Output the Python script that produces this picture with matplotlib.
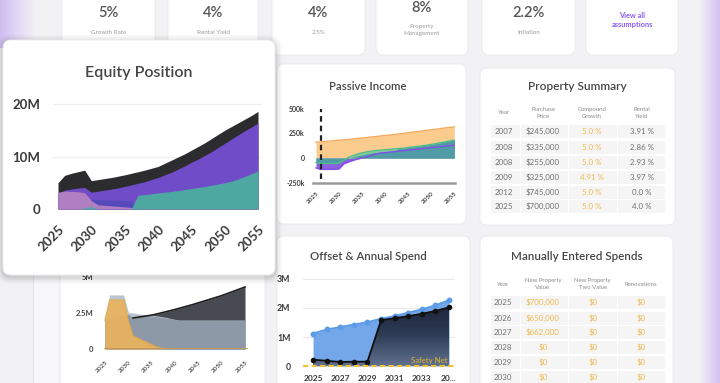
import numpy as np
import matplotlib
matplotlib.use('Agg')
import matplotlib.pyplot as plt
from matplotlib.patches import FancyBboxPatch, Rectangle
from matplotlib.colors import LinearSegmentedColormap

plt.rcParams['font.family'] = ['Lato', 'DejaVu Sans']

W, H = 720, 383

# ---------------- data ----------------
years = [2025, 2026, 2027, 2028, 2029, 2030, 2031, 2032, 2033, 2034, 2035,
         2036, 2037, 2038, 2039, 2040, 2041, 2042, 2043, 2044, 2045,
         2046, 2047, 2048, 2049, 2050, 2051, 2052, 2053, 2054, 2055]
year_ticks = [2025, 2030, 2035, 2040, 2045, 2050, 2055]

# Equity Position (millions)
eq_total = [5.0, 6.4, 6.8, 7.1, 7.4, 5.4, 5.6, 5.8, 6.0, 6.25, 6.5,
            6.8, 7.1, 7.4, 7.75, 8.1, 8.7, 9.3, 9.9, 10.5, 11.2,
            11.9, 12.6, 13.4, 14.2, 15.0, 15.7, 16.4, 17.1, 17.8, 18.6]
eq_purple = [3.0, 3.6, 3.8, 4.0, 4.1, 3.2, 3.4, 3.6, 3.8, 4.0, 4.3,
             4.6, 4.9, 5.2, 5.6, 6.0, 6.5, 7.0, 7.6, 8.2, 8.9,
             9.5, 10.2, 10.9, 11.7, 12.5, 13.3, 14.1, 14.9, 15.6, 16.4]
eq_blue = [0, 0, 0, 0, 0, 1.9, 1.8, 1.75, 1.7, 1.7, 1.65,
           1.6, 0, 0, 0, 0, 0, 0, 0, 0, 0,
           0, 0, 0, 0, 0, 0, 0, 0, 0, 0]
eq_mauve = [3.2, 3.4, 3.35, 3.3, 3.1, 1.6, 0.8, 0.7, 0.6, 0.5, 0.4,
            0.3, 0, 0, 0, 0, 0, 0, 0, 0, 0,
            0, 0, 0, 0, 0, 0, 0, 0, 0, 0]
eq_teal = [0, 0, 0, 0, 0.2, 0.5, 0, 0, 0, 0, 0,
           0, 2.6, 2.75, 2.9, 3.05, 3.2, 3.35, 3.5, 3.7, 3.9,
           4.1, 4.3, 4.5, 4.75, 5.0, 5.3, 5.7, 6.2, 6.7, 7.3]

# Passive Income (thousands)
pi_gross = [160, 164, 168, 172, 176, 180, 184, 188, 193, 198, 203,
            208, 213, 218, 223, 228, 233, 238, 244, 250, 256,
            262, 268, 274, 280, 286, 292, 298, 304, 310, 316]
pi_purple = [-100, -115, -115, -115, -115, -110, -60, -40, -25, -10, 0,
             10, 25, 40, 50, 55, 60, 65, 70, 75, 80,
             85, 90, 95, 100, 105, 110, 115, 120, 125, 130]
pi_green = [-45, -55, -55, -55, -55, -50, -20, 5, 25, 40, 52,
            62, 70, 76, 80, 84, 88, 92, 96, 100, 106,
            112, 118, 124, 131, 138, 146, 155, 164, 173, 182]
pi_net = [-45, -55, -55, -55, -55, -50, -25, -5, 10, 22, 32,
          42, 50, 56, 60, 64, 68, 72, 96, 100, 106,
          112, 118, 124, 131, 138, 146, 155, 164, 173, 182]
pi_marker_year = 2026

# Lower-left chart (millions)
bl_black = [2.0, 2.2, 2.25, 2.3, 2.35, 2.4, 2.15, 2.2, 2.25, 2.3, 2.35,
            2.42, 2.5, 2.58, 2.66, 2.74, 2.83, 2.92, 3.01, 3.1, 3.2,
            3.3, 3.4, 3.5, 3.6, 3.7, 3.82, 3.94, 4.06, 4.18, 4.3]
bl_slate = [2.0, 2.2, 2.25, 2.3, 2.35, 2.4, 2.15, 2.2, 2.25, 2.3, 2.3,
            2.25, 2.2, 2.15, 2.1, 2.05, 2.0, 2.0, 2.0, 2.0, 2.0,
            2.0, 2.0, 2.0, 2.0, 2.0, 2.0, 2.0, 2.0, 2.0, 2.0]
bl_light = [2.2, 3.75, 3.75, 3.75, 3.75, 2.55, 2.5, 2.45, 2.4, 2.38, 2.35,
            2.3, 2.25, 2.2, 2.12, 2.05, 2.0, 2.0, 2.0, 2.0, 2.0,
            2.0, 2.0, 2.0, 2.0, 2.0, 2.0, 2.0, 2.0, 2.0, 2.0]
bl_orange = [2.0, 3.4, 3.4, 3.4, 3.4, 1.9, 0.9, 0.75, 0.6, 0.45, 0.3,
             0.15, 0.05, 0, 0, 0, 0, 0, 0, 0, 0,
             0, 0, 0, 0, 0, 0, 0, 0, 0, 0]

# Offset & Annual Spend (millions)
os_years = [2025, 2026, 2027, 2028, 2029, 2030, 2031, 2032, 2033, 2034, 2035]
os_offset = [1.12, 1.26, 1.34, 1.43, 1.51, 1.63, 1.72, 1.84, 1.95, 2.09, 2.27]
os_spend = [0.22, 0.18, 0.14, 0.15, 0.15, 1.58, 1.65, 1.72, 1.80, 1.90, 2.02]
os_xticks = [2025, 2027, 2029, 2031, 2033, 2035]
os_xlabels = ['2025', '2027', '2029', '2031', '2033', '20...']

# Assumptions row
assumption_values = ['5%', '4%', '4%', '8%', '2.2%']
assumption_labels = ['Growth Rate', 'Rental Yield', '2.5%', 'Property\nManagement', 'Inflation']

# Property Summary table
ps_header = ['Year', 'Purchase\nPrice', 'Compound\nGrowth', 'Rental\nYield']
ps_year = ['2007', '2008', '2008', '2009', '2012', '2025']
ps_price = ['$245,000', '$335,000', '$255,000', '$325,000', '$745,000', '$700,000']
ps_growth = ['5.0 %', '5.0 %', '5.0 %', '4.91 %', '5.0 %', '5.0 %']
ps_yield = ['3.91 %', '2.86 %', '2.93 %', '3.97 %', '0.0 %', '4.0 %']

# Manually Entered Spends table
ms_header = ['Year', 'New Property\nValue', 'New Property\nTwo Value', 'Renovations']
ms_year = ['2025', '2026', '2027', '2028', '2029', '2030']
ms_value = ['$700,000', '$650,000', '$662,000', '$0', '$0', '$0']
ms_two = ['$0', '$0', '$0', '$0', '$0', '$0']
ms_reno = ['$0', '$0', '$0', '$0', '$0', '$0']

# ---------------- figure ----------------
BG = '#f2f2f4'
fig = plt.figure(figsize=(7.2, 3.83), dpi=100)
fig.patch.set_facecolor(BG)


def px_axes(x0, y0, x1, y1, z=0):
    ax = fig.add_axes([x0 / W, 1 - y1 / H, (x1 - x0) / W, (y1 - y0) / H])
    ax.set_zorder(z)
    return ax


def pixel_canvas(z):
    ax = px_axes(0, 0, W, H, z)
    ax.set_xlim(0, W)
    ax.set_ylim(H, 0)
    ax.axis('off')
    ax.patch.set_alpha(0)
    return ax


def card(ax, x0, y0, x1, y1, r=6, ec='#e9e9ec'):
    ax.add_patch(FancyBboxPatch((x0, y0), x1 - x0, y1 - y0,
                                boxstyle=f'round,pad=0,rounding_size={r}',
                                fc='white', ec=ec, lw=0.6))


bg = pixel_canvas(-10)

# lavender glows
grad = np.linspace(0, 1, 64).reshape(1, -1)
lav = LinearSegmentedColormap.from_list('lav', ['#cfbdf0', '#e3d8f6', BG])
bg.imshow(grad, extent=(0, 36, 48, 0), cmap=lav, aspect='auto', zorder=0)
lav2 = LinearSegmentedColormap.from_list('lav2', [BG, '#e2d7f6', '#d3c4f1'])
bg.imshow(grad, extent=(700, 720, H, 0), cmap=lav2, aspect='auto', zorder=0)
bg.set_xlim(0, W)
bg.set_ylim(H, 0)
bg.plot([33, 33], [40, H], color='#e6e6ea', lw=0.8)
bg.add_patch(Rectangle((33.5, 40), 25, H, fc='#f8f8fa', ec='none'))

# top assumption cards
top_cards = [(62, 155), (168, 258), (272, 365), (376, 468), (482, 575), (586, 678)]
for (x0, x1) in top_cards:
    card(bg, x0, -12, x1, 55, r=7)
for i, (x0, x1) in enumerate(top_cards[:5]):
    cx = (x0 + x1) / 2
    if '\n' in assumption_labels[i]:
        bg.text(cx, 8, assumption_values[i], ha='center', va='center', fontsize=10.5,
                color='#555', fontweight='semibold')
        bg.text(cx, 30, assumption_labels[i], ha='center', va='center', fontsize=4.5,
                color='#9c9c9c', linespacing=1.3)
    else:
        bg.text(cx, 13, assumption_values[i], ha='center', va='center', fontsize=10.5,
                color='#555', fontweight='semibold')
        bg.text(cx, 33, assumption_labels[i], ha='center', va='center', fontsize=4.5,
                color='#9c9c9c')
bg.text((586 + 678) / 2, 20, 'View all\nassumptions', ha='center', va='center', fontsize=5.3,
        color='#8b5cf6', fontweight='bold', linespacing=1.3)

# other cards
card(bg, 277, 64, 466, 224, r=7)       # passive income
card(bg, 480, 68, 675, 225, r=7)       # property summary
card(bg, 60, 258, 265, 400, r=7)       # lower-left
card(bg, 277, 236, 470, 400, r=7)      # offset
card(bg, 480, 236, 673, 400, r=7)      # manual spends

TITLE = '#454545'
bg.text(368, 86, 'Passive Income', ha='center', va='center', fontsize=8.2, color=TITLE,
        fontweight='semibold')
bg.text(577, 86, 'Property Summary', ha='center', va='center', fontsize=8.6, color=TITLE,
        fontweight='semibold')
bg.text(368, 256, 'Offset & Annual Spend', ha='center', va='center', fontsize=8.2, color=TITLE,
        fontweight='semibold')
bg.text(577, 256, 'Manually Entered Spends', ha='center', va='center', fontsize=8.4, color=TITLE,
        fontweight='semibold')


def table(ax, header, cols, colx, bounds, header_y, rows_y, gold_cols):
    rh = 14.5
    for ry in rows_y:
        for (b0, b1) in bounds:
            ax.add_patch(Rectangle((b0 + 0.5, ry - rh / 2 + 0.5), b1 - b0 - 1, rh - 1,
                                   fc='#f5f5f6', ec='none'))
    for j, h in enumerate(header):
        ax.text(colx[j], header_y, h, ha='center', va='center', fontsize=4.3,
                color='#8a8a8a', linespacing=1.3)
    for j, col in enumerate(cols):
        for i, v in enumerate(col):
            c = '#f0b94e' if j in gold_cols else '#707070'
            ax.text(colx[j], rows_y[i], v, ha='center', va='center', fontsize=5.7, color=c)


table(bg, ps_header, [ps_year, ps_price, ps_growth, ps_yield],
      [504, 543, 592, 642], [(490, 520), (520, 568), (568, 617), (617, 665)],
      113, [131.7, 147.3, 162.7, 177.3, 192.7, 206.7], [2])
table(bg, ms_header, [ms_year, ms_value, ms_two, ms_reno],
      [503, 543, 592.7, 640.7], [(490, 520), (520, 568), (568, 617), (617, 665)],
      284, [302.7, 318.3, 332.7, 347.3, 362.7, 377.3], [1, 2, 3])

TICK = '#3a3a3a'

# ---------------- Passive Income ----------------
ax = px_axes(313, 106.7, 455, 182.7, z=1)
ax.patch.set_alpha(0)
ax.fill_between(years, 0, pi_gross, color='#fccb8e', lw=0)
ax.plot(years, pi_gross, color='#f6aa5c', lw=1.0)
ax.fill_between(years, 0, pi_purple, color='#8e5fe0', lw=0)
ax.plot(years, pi_purple, color='#8250e6', lw=1.0)
ax.fill_between(years, 0, pi_green, color='#83c9a0', lw=0)
ax.fill_between(years, 0, pi_net, color='#4f9ba6', lw=0)
ax.plot(years, pi_green, color='#4cbf8c', lw=1.0)
ax.plot([pi_marker_year, pi_marker_year], [-210, 500], color='#222', lw=1.6, ls=(0, (2.5, 1.8)))
ax.set_xlim(2024.35, 2055.15)
ax.set_ylim(-250, 520)
for s in ['top', 'right', 'left']:
    ax.spines[s].set_visible(False)
ax.spines['bottom'].set_color('#9a9a9a')
ax.spines['bottom'].set_linewidth(1.8)
ax.set_yticks([-250, 0, 250, 500])
ax.set_yticklabels(['-250k', '0', '250k', '500k'], fontsize=5, color=TICK, fontweight='bold')
ax.set_xticks(year_ticks)
ax.set_xticklabels([str(y) for y in year_ticks], rotation=45, ha='right', va='top',
                   rotation_mode='anchor', fontsize=4.6, color='#444', fontweight='bold')
ax.tick_params(axis='y', length=0, pad=6)
ax.tick_params(axis='x', length=0, pad=6)

# ---------------- Lower-left chart ----------------
ax = px_axes(100, 274, 250, 349, z=1)
ax.patch.set_alpha(0)
ax.fill_between(years, 0, bl_black, color='#474b51', lw=0)
ax.plot(years[6:], bl_black[6:], color='#1e1e1e', lw=1.2)
ax.fill_between(years, 0, bl_light, color='#b9c4cf', lw=0)
ax.fill_between(years, 0, bl_slate, color='#8d99a6', lw=0)
ax.fill_between(years, 0, bl_orange, color='#eab35e', lw=0, alpha=0.92)
ax.plot(years, bl_orange, color='#e8a845', lw=0.8)
ax.axhline(0, xmin=0.03, xmax=0.97, color='#c29856', lw=2)
ax.set_xlim(2023.93, 2056.07)
ax.set_ylim(0, 5.2)
for s in ax.spines.values():
    s.set_visible(False)
ax.set_yticks([0, 2.5, 5])
ax.set_yticklabels(['0', '2.5M', '5M'], fontsize=5.5, color='#444', fontweight='bold')
ax.set_xticks(year_ticks)
ax.set_xticklabels([str(y) for y in year_ticks], rotation=45, ha='right', va='top',
                   rotation_mode='anchor', fontsize=4.6, color='#555', fontweight='bold')
ax.tick_params(axis='y', length=0, pad=5)
ax.tick_params(axis='x', length=0, pad=8)

# ---------------- Offset & Annual Spend ----------------
ax = px_axes(303, 277.5, 455, 370.4, z=1)
ax.patch.set_alpha(0)
ax.set_xlim(2024.26, 2035.44)
ax.set_ylim(-0.15, 3.05)
for yv in [1, 2, 3]:
    ax.axhline(yv, color='#e9e9ec', lw=0.8, zorder=0)
ax.fill_between(os_years, 0, os_offset, color='#74a6ea', lw=0, zorder=1)
poly = ax.fill_between(os_years, 0, os_spend, color='none', lw=0, zorder=2)
dark = LinearSegmentedColormap.from_list('dark', ['#60708e', '#2f3d57', '#1b2439'])
gy = np.linspace(0, 1, 128).reshape(-1, 1)
im = ax.imshow(gy, extent=(2024.26, 2035.44, 0, 2.1), origin='lower', cmap=dark,
               aspect='auto', zorder=2)
im.set_clip_path(poly.get_paths()[0], transform=ax.transData)
ax.set_xlim(2024.26, 2035.44)
ax.set_ylim(-0.15, 3.05)
ax.plot(os_years, os_offset, color='#5b9be8', lw=1.4, marker='o', ms=3.2, zorder=4)
ax.plot(os_years, os_spend, color='#111111', lw=1.3, marker='o', ms=3.0, zorder=4)
ax.axhline(0, color='#f1c232', lw=1.5, ls=(0, (2.5, 1.6)), zorder=5)
ax.text(2034.9, 0.2, 'Safety Net', ha='right', va='center', fontsize=5.6, color='#e5b62a', zorder=6)
for s in ax.spines.values():
    s.set_visible(False)
ax.set_yticks([0, 1, 2, 3])
ax.set_yticklabels(['0', '1M', '2M', '3M'], fontsize=6.3, color=TICK, fontweight='bold')
ax.set_xticks(os_xticks)
ax.set_xticklabels(os_xlabels, fontsize=6, color=TICK, fontweight='bold')
ax.tick_params(axis='y', length=0, pad=9)
ax.tick_params(axis='x', length=0, pad=3)

# ---------------- Equity Position (floating card) ----------------
ov = pixel_canvas(5)
for pad, a in [(7, 0.025), (5, 0.035), (3, 0.045), (1.5, 0.05)]:
    ov.add_patch(FancyBboxPatch((3 - pad, 40 - pad + 2), 272 + 2 * pad, 235 + 2 * pad,
                                boxstyle=f'round,pad=0,rounding_size={8 + pad}',
                                fc='black', ec='none', alpha=a))
card(ov, 3, 40, 275, 275, r=8, ec='#eeeeee')
ov.text(139, 73, 'Equity Position', ha='center', va='center', fontsize=11.5, color=TITLE,
        fontweight='semibold')

ax = px_axes(53, 101.4, 262, 209, z=6)
ax.patch.set_alpha(0)
for yv in [10, 20]:
    ax.axhline(yv, color='#efeff1', lw=0.9, zorder=0)
ax.fill_between(years, 0, eq_total, color='#2c2c2e', lw=0, zorder=1)
ax.fill_between(years, 0, eq_purple, color='#704cc8', lw=0, zorder=2)
ax.fill_between(years, 0, eq_blue, color='#5649bc', lw=0, zorder=3)
ax.fill_between(years, 0, eq_mauve, color='#b07fc2', lw=0, zorder=4)
ax.fill_between(years, 0, eq_teal, color='#4ea8a2', lw=0, zorder=5)
ax.set_xlim(2024.25, 2055.6)
ax.set_ylim(0, 20.5)
for s in ax.spines.values():
    s.set_visible(False)
ax.set_yticks([0, 10, 20])
ax.set_yticklabels(['0', '10M', '20M'], fontsize=9.5, color=TICK, fontweight='bold')
ax.set_xticks(year_ticks)
ax.set_xticklabels([str(y) for y in year_ticks], rotation=45, ha='right', va='top',
                   rotation_mode='anchor', fontsize=9.5, color=TICK, fontweight='bold')
ax.tick_params(axis='y', length=0, pad=9)
ax.tick_params(axis='x', length=0, pad=10)

fig.savefig('out.png', dpi=100, facecolor=BG)
